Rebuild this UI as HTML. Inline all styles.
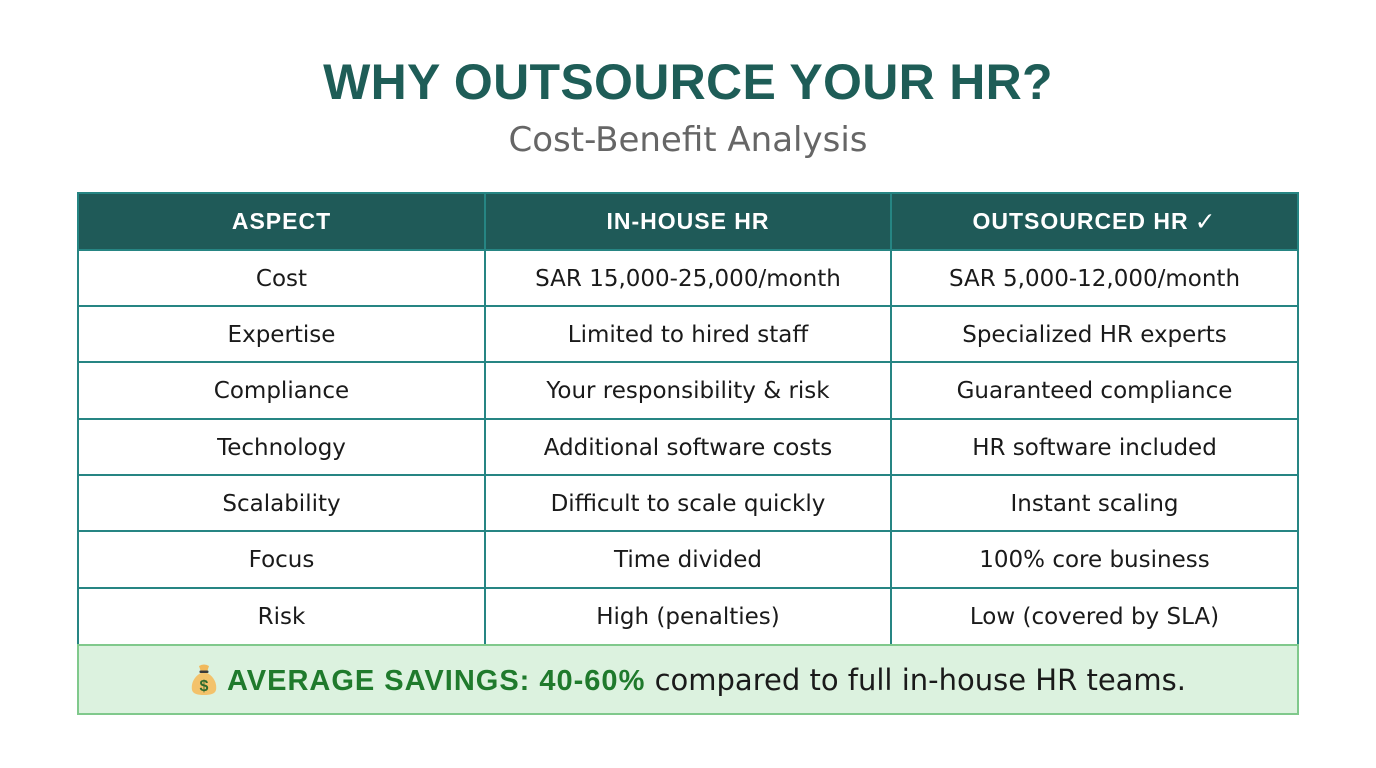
<!DOCTYPE html>
<html>
<head>
<meta charset="utf-8">
<style>
  html,body{margin:0;padding:0;}
  body{width:1376px;height:768px;background:#ffffff;position:relative;overflow:hidden;font-family:"Liberation Sans",Arial,sans-serif;}
  .abs{position:absolute;}
  .title{left:0;width:1376px;top:53px;text-align:center;font-size:50px;font-weight:bold;color:#1e5d57;letter-spacing:0.3px;line-height:58px;}
  .sub{left:0;width:1376px;top:119px;text-align:center;font-family:"DejaVu Sans",sans-serif;font-size:34px;color:#666666;line-height:42px;}
  .hdr{left:78px;top:193px;width:1220px;height:57px;background:#1f5a58;}
  .hline{position:absolute;height:2px;background:#268583;}
  .vline{position:absolute;width:2px;background:#268583;}
  .cell{position:absolute;display:flex;align-items:center;justify-content:center;text-align:center;font-family:"DejaVu Sans",sans-serif;font-size:23px;color:#1a1a1a;white-space:nowrap;padding-top:1px;box-sizing:border-box;}
  .hcell{position:absolute;display:flex;align-items:center;justify-content:center;font-size:23px;font-weight:bold;letter-spacing:1px;color:#ffffff;white-space:nowrap;}
  .sav{left:77px;top:644px;width:1218px;height:67px;background:#dcf2df;border:2px solid #80c98c;}
  .savtxt{position:absolute;left:0;top:3px;width:1222px;height:71px;display:flex;align-items:center;justify-content:center;white-space:nowrap;}
  .line{display:block;line-height:36px;}
  .b{font-weight:bold;color:#1f7a2c;font-size:29px;letter-spacing:1px;}
  .n{color:#1a1a1a;font-family:"DejaVu Sans",sans-serif;font-size:29px;}
</style>
</head>
<body>
  <div class="abs title">WHY OUTSOURCE YOUR HR?</div>
  <div class="abs sub">Cost-Benefit Analysis</div>

  <div class="abs hdr"></div>

  <!-- savings box -->
  <div class="abs sav"></div>

  <!-- horizontal lines -->
  <div class="hline" style="left:77px;width:1222px;top:192px;"></div>
  <div class="hline" style="left:77px;width:1222px;top:249px;"></div>
  <div class="hline" style="left:77px;width:1222px;top:305px;"></div>
  <div class="hline" style="left:77px;width:1222px;top:361px;"></div>
  <div class="hline" style="left:77px;width:1222px;top:418px;"></div>
  <div class="hline" style="left:77px;width:1222px;top:474px;"></div>
  <div class="hline" style="left:77px;width:1222px;top:530px;"></div>
  <div class="hline" style="left:77px;width:1222px;top:587px;"></div>

  <!-- vertical lines -->
  <div class="vline" style="left:77px;top:192px;height:452px;"></div>
  <div class="vline" style="left:484px;top:192px;height:452px;"></div>
  <div class="vline" style="left:890px;top:192px;height:452px;"></div>
  <div class="vline" style="left:1297px;top:192px;height:452px;"></div>

  <!-- header cells -->
  <div class="hcell" style="left:79px;width:405px;top:194px;height:55px;">ASPECT</div>
  <div class="hcell" style="left:486px;width:404px;top:194px;height:55px;">IN-HOUSE HR</div>
  <div class="hcell" style="left:892px;width:405px;top:194px;height:55px;">OUTSOURCED HR <span style="font-family:'DejaVu Sans',sans-serif;font-weight:bold;font-size:25px;margin-left:6px;">✓</span></div>

  <!-- row 1 -->
  <div class="cell" style="left:79px;width:405px;top:251px;height:54px;">Cost</div>
  <div class="cell" style="left:486px;width:404px;top:251px;height:54px;">SAR 15,000-25,000/month</div>
  <div class="cell" style="left:892px;width:405px;top:251px;height:54px;">SAR 5,000-12,000/month</div>
  <!-- row 2 -->
  <div class="cell" style="left:79px;width:405px;top:307px;height:54px;">Expertise</div>
  <div class="cell" style="left:486px;width:404px;top:307px;height:54px;">Limited to hired staff</div>
  <div class="cell" style="left:892px;width:405px;top:307px;height:54px;">Specialized HR experts</div>
  <!-- row 3 -->
  <div class="cell" style="left:79px;width:405px;top:363px;height:55px;">Compliance</div>
  <div class="cell" style="left:486px;width:404px;top:363px;height:55px;">Your responsibility &amp; risk</div>
  <div class="cell" style="left:892px;width:405px;top:363px;height:55px;">Guaranteed compliance</div>
  <!-- row 4 -->
  <div class="cell" style="left:79px;width:405px;top:420px;height:54px;">Technology</div>
  <div class="cell" style="left:486px;width:404px;top:420px;height:54px;">Additional software costs</div>
  <div class="cell" style="left:892px;width:405px;top:420px;height:54px;">HR software included</div>
  <!-- row 5 -->
  <div class="cell" style="left:79px;width:405px;top:476px;height:54px;">Scalability</div>
  <div class="cell" style="left:486px;width:404px;top:476px;height:54px;">Difficult to scale quickly</div>
  <div class="cell" style="left:892px;width:405px;top:476px;height:54px;">Instant scaling</div>
  <!-- row 6 -->
  <div class="cell" style="left:79px;width:405px;top:532px;height:55px;">Focus</div>
  <div class="cell" style="left:486px;width:404px;top:532px;height:55px;">Time divided</div>
  <div class="cell" style="left:892px;width:405px;top:532px;height:55px;">100% core business</div>
  <!-- row 7 -->
  <div class="cell" style="left:79px;width:405px;top:589px;height:55px;">Risk</div>
  <div class="cell" style="left:486px;width:404px;top:589px;height:55px;">High (penalties)</div>
  <div class="cell" style="left:892px;width:405px;top:589px;height:55px;">Low (covered by SLA)</div>

  <!-- savings text -->
  <div class="abs" style="left:77px;top:644px;width:1222px;height:71px;">
    <div class="savtxt">
      <div class="line"><svg width="28" height="32" viewBox="0 0 28 32" style="margin-right:9px;vertical-align:-5px;">
        <path d="M9 3 Q14 0 19 3 L17 9 L11 9 Z" fill="#f1b95c"/>
        <rect x="9.5" y="7.5" width="9" height="2.5" rx="1" fill="#3a3a3a"/>
        <path d="M11 10 C3 14 1 22 2 27 C3 31 8 32 14 32 C20 32 25 31 26 27 C27 22 25 14 17 10 Z" fill="#f3c26b"/>
        <text x="14" y="28" text-anchor="middle" font-family="Liberation Sans, sans-serif" font-weight="bold" font-size="16" fill="#2e6b2e">$</text>
      </svg><span class="b">AVERAGE SAVINGS: 40-60%</span><span class="n">&nbsp;compared to full in-house HR teams.</span></div>
    </div>
  </div>
</body>
</html>
